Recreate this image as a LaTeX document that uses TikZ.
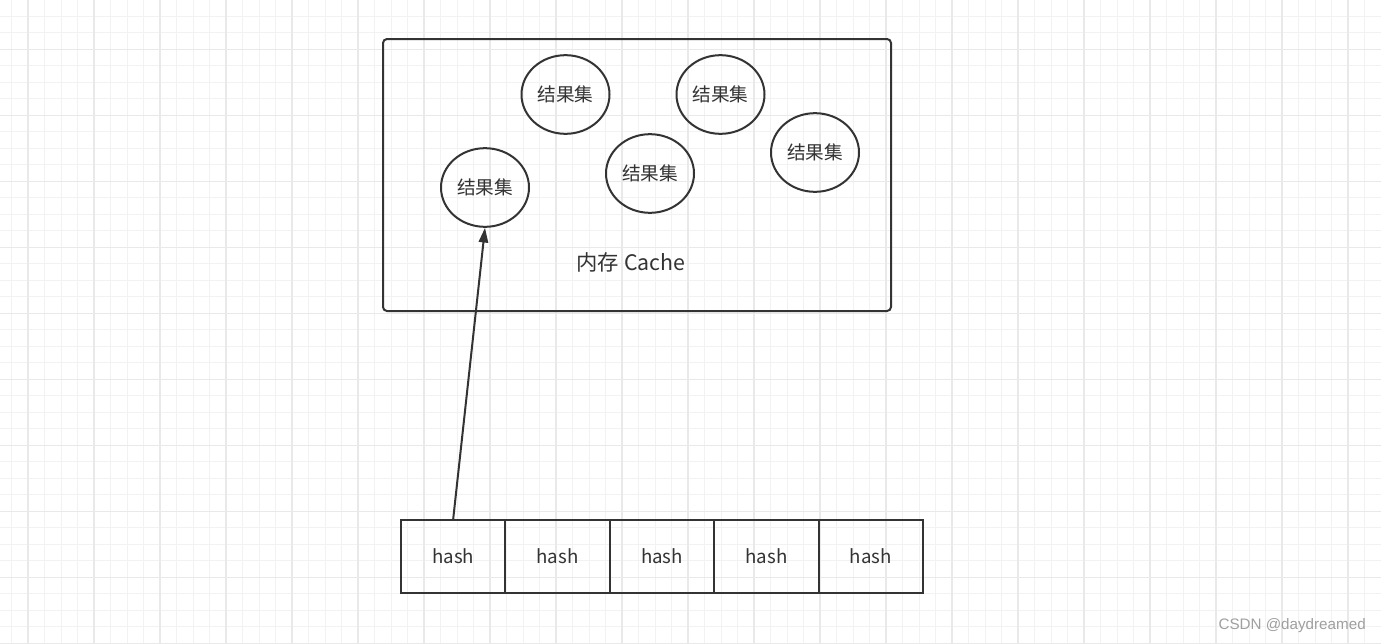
\documentclass[tikz,border=0pt]{standalone}
\usepackage{fontspec}
\setmainfont{Noto Sans CJK SC}
\newfontfamily\wmfont{Liberation Sans}
\usetikzlibrary{shapes.geometric,arrows.meta}
\definecolor{ink}{HTML}{333333}
\definecolor{gridminor}{HTML}{F2F2F2}
\definecolor{gridmajor}{HTML}{E9E9E9}
\tikzset{
  rsnode/.style={draw=ink,line width=1.5pt,ellipse,inner sep=0pt,minimum width=66pt,minimum height=59pt,text=ink,font=\fontsize{14pt}{16pt}\selectfont},
  hashcell/.style={draw=ink,line width=1.5pt,rectangle,inner sep=0pt,minimum width=78.3pt,minimum height=54.75pt,text=ink,font=\fontsize{14pt}{16pt}\selectfont},
}
\begin{document}
\begin{tikzpicture}[x=0.75pt,y=0.75pt,yscale=-1,xscale=1]
\useasboundingbox (0,0) rectangle (1381,643);
\fill[white] (0,0) rectangle (1381,643);

%Grid
\foreach \gx in {0,...,83} {
  \draw[gridminor,line width=0.75pt] ({11.5+16.5*\gx},0) -- ({11.5+16.5*\gx},643) ;
}
\foreach \gy in {0,...,39} {
  \draw[gridminor,line width=0.75pt] (0,{-0.2+16.5*\gy}) -- (1381,{-0.2+16.5*\gy}) ;
}
\foreach \gx in {0,...,20} {
  \draw[gridmajor,line width=0.9pt] ({28+66*\gx},0) -- ({28+66*\gx},643) ;
}
\foreach \gy in {0,...,9} {
  \draw[gridmajor,line width=0.9pt] (0,{49.3+66*\gy}) -- (1381,{49.3+66*\gy}) ;
}

%Shape: Rectangle
\draw[ink,line width=1.5pt,rounded corners=3pt] (383,39) rectangle (891,311) ;

%Shape: Ellipse
\node[rsnode] (rs1) at (565.5,94.5) {结果集};
\node[rsnode] (rs2) at (720.5,94.5) {结果集};
\node[rsnode] (rs3) at (650,173.5) {结果集};
\node[rsnode] (rs4) at (815,152.5) {结果集};
\node[rsnode] (rs5) at (485,187.5) {结果集};

% Text Node
\node[text=ink,font=\fontsize{16pt}{18pt}\selectfont] (cache) at (631,262) {内存 Cache};

%Shape: Rectangle
\foreach \i in {1,...,5} {
  \node[hashcell] (h\i) at ({401+104.4*(\i-0.5)},556.5) {hash};
}

%Straight Lines
\draw[ink,line width=1.5pt,-{Triangle[length=11pt,width=7pt]}] (h1.north) -- (rs5.south) ;

% Text Node
\node[text=gray!75,inner sep=0pt,font=\wmfont\fontsize{11.4pt}{13pt}\selectfont,anchor=east] (mark) at (1366,626) {CSDN @daydreamed};

\end{tikzpicture}
\end{document}
